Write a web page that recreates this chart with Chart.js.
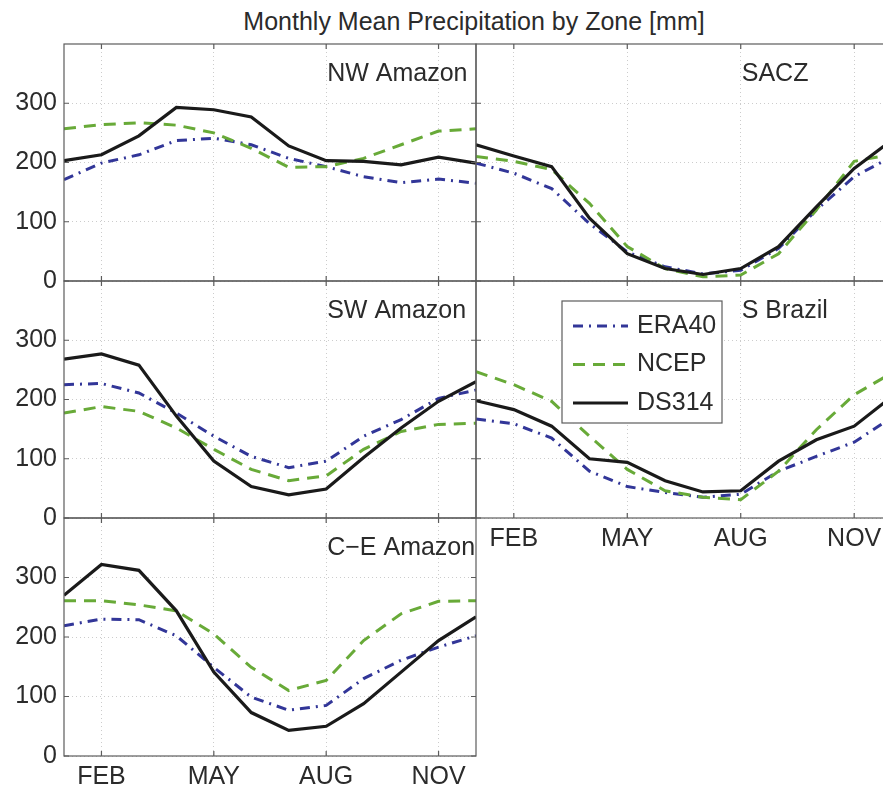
<!DOCTYPE html>
<html>
<head>
<meta charset="utf-8">
<script src="https://cdn.jsdelivr.net/npm/chart.js@4.4.0/dist/chart.umd.min.js"></script>
<style>
  html, body { margin: 0; padding: 0; background: #fff; }
  #fig { position: relative; width: 883px; height: 789px; overflow: hidden; font-family: 'Liberation Sans', Arial, sans-serif; }
  #fig canvas { position: absolute; }
  #title { position: absolute; left: 0; top: 6px; width: 948px; text-align: center; font-size: 25px; line-height: 30px; color: #2b2b2b; }
</style>
</head>
<body>
<div id="fig">
  <div id="title">Monthly Mean Precipitation by Zone [mm]</div>
  <canvas id="nw"></canvas>
  <canvas id="sw"></canvas>
  <canvas id="ce"></canvas>
  <canvas id="sacz"></canvas>
  <canvas id="sb"></canvas>
</div>
<script>
// months along x, only four are labelled
var months = [1, 2, 3, 4, 5, 6, 7, 8, 9, 10, 11, 12];
var monthTicks = [2, 5, 8, 11];
var monthLabels = ['FEB', 'MAY', 'AUG', 'NOV'];
var yTicks = [0, 100, 200, 300];
var seriesNames = ['ERA40', 'NCEP', 'DS314'];

// NW Amazon
var nwEra40 = [171, 199, 213, 237, 241, 230, 207, 193, 176, 166, 172, 165];
var nwNcep  = [257, 264, 267, 263, 250, 224, 192, 193, 207, 230, 253, 257];
var nwDs314 = [203, 213, 245, 293, 289, 277, 228, 203, 202, 196, 209, 199];
// SACZ
var saczEra40 = [199, 182, 156, 97, 49, 24, 12, 18, 55, 120, 176, 210];
var saczNcep  = [210, 202, 188, 131, 58, 21, 7, 10, 46, 120, 202, 214];
var saczDs314 = [230, 211, 193, 106, 46, 21, 11, 21, 58, 125, 190, 238];
// SW Amazon
var swEra40 = [225, 227, 211, 177, 138, 104, 85, 96, 138, 166, 202, 216];
var swNcep  = [177, 188, 180, 152, 116, 82, 63, 71, 116, 146, 158, 160];
var swDs314 = [268, 277, 258, 172, 96, 53, 39, 49, 102, 152, 197, 230];
// S Brazil
var sbEra40 = [167, 159, 135, 79, 53, 43, 35, 40, 79, 104, 128, 170];
var sbNcep  = [247, 225, 197, 138, 82, 46, 35, 31, 79, 149, 208, 245];
var sbDs314 = [198, 183, 155, 100, 94, 63, 44, 46, 96, 132, 155, 205];
// C-E Amazon
var ceEra40 = [219, 230, 229, 202, 149, 99, 77, 85, 130, 161, 183, 202];
var ceNcep  = [261, 261, 254, 244, 205, 149, 110, 127, 194, 239, 260, 261];
var ceDs314 = [270, 322, 312, 244, 141, 73, 43, 50, 88, 141, 194, 234];

var FONT = "'Liberation Sans', Arial, sans-serif";
var TEXT = '#2b2b2b';
var AXIS = '#5c5c5c';
var GRID = 'rgba(0,0,0,0.2)';

var styles = [
  {color: 'rgb(50, 54, 152)', dash: [10, 6, 2, 6], width: 3, order: 2},
  {color: 'rgb(104, 170, 56)', dash: [12, 8], width: 3, order: 1},
  {color: '#1a1a1a', dash: [], width: 3.2, order: 0}
];

// panel box, inward ticks, zone name and (optionally) the legend
var panelDecor = {
  id: 'panelDecor',
  afterDraw: function(chart, args, opts) {
    var ctx = chart.ctx, a = chart.chartArea;
    var xs = chart.scales.x, ys = chart.scales.y;
    ctx.save();
    ctx.strokeStyle = AXIS;
    ctx.lineWidth = 1.2;
    ctx.beginPath();
    xs.ticks.forEach(function(t) {
      var px = xs.getPixelForValue(t.value);
      ctx.moveTo(px, a.bottom); ctx.lineTo(px, a.bottom - 5);
      ctx.moveTo(px, a.top); ctx.lineTo(px, a.top + 5);
    });
    ys.ticks.forEach(function(t) {
      var py = ys.getPixelForValue(t.value);
      ctx.moveTo(a.left, py); ctx.lineTo(a.left + 5, py);
      ctx.moveTo(a.right, py); ctx.lineTo(a.right - 5, py);
    });
    ctx.stroke();
    ctx.strokeRect(a.left, a.top, a.right - a.left, a.bottom - a.top);

    ctx.fillStyle = TEXT;
    ctx.font = '25px ' + FONT;
    ctx.textAlign = 'left';
    ctx.textBaseline = 'middle';
    ctx.fillText(opts.label, xs.getPixelForValue(8) + 1, ys.getPixelForValue(350));

    if (opts.legend) {
      var bx = a.left + 86, by = a.top + 20, bw = 160, bh = 122;
      ctx.fillStyle = '#fff';
      ctx.fillRect(bx, by, bw, bh);
      ctx.strokeStyle = AXIS;
      ctx.lineWidth = 1.2;
      ctx.setLineDash([]);
      ctx.strokeRect(bx, by, bw, bh);
      chart.data.datasets.forEach(function(ds, i) {
        var ly = by + 25 + i * 38.5;
        ctx.strokeStyle = ds.borderColor;
        ctx.lineWidth = ds.borderWidth;
        ctx.setLineDash(ds.borderDash);
        ctx.beginPath();
        ctx.moveTo(bx + 11, ly); ctx.lineTo(bx + 66, ly);
        ctx.stroke();
        ctx.setLineDash([]);
        ctx.fillStyle = TEXT;
        ctx.fillText(ds.label, bx + 75, ly);
      });
    }
    ctx.restore();
  }
};

function makePanel(id, label, series, col, rowTop, rowH, showX, showLegend) {
  var left = col === 0 ? 64 : 476;
  var w = col === 0 ? 412 : 416;
  var yw = col === 0 ? 64 : 0;          // room for the y tick labels
  var xh = showX ? 42 : 0;              // room for the month labels
  var padL = col === 0 ? 0 : 10, padR = 20, padT = 30, padB = 30;
  var cv = document.getElementById(id);
  cv.width = padL + yw + w + padR;
  cv.height = padT + rowH + xh + padB;
  cv.style.left = (left - yw - padL) + 'px';
  cv.style.top = (rowTop - padT) + 'px';

  return new Chart(cv, {
    type: 'line',
    data: {
      datasets: series.map(function(vals, i) {
        return {
          label: seriesNames[i],
          data: vals.map(function(v, k) { return {x: months[k], y: v}; }),
          borderColor: styles[i].color,
          borderDash: styles[i].dash,
          borderWidth: styles[i].width,
          order: styles[i].order,
          pointRadius: 0,
          tension: 0,
          fill: false
        };
      })
    },
    options: {
      responsive: false,
      animation: false,
      devicePixelRatio: 1,
      layout: {padding: {left: padL, right: padR, top: padT, bottom: padB}},
      plugins: {
        legend: {display: false},
        tooltip: {enabled: false},
        panelDecor: {label: label, legend: showLegend}
      },
      scales: {
        x: {
          type: 'linear', min: 1, max: 12,
          afterBuildTicks: function(s) { s.ticks = monthTicks.map(function(v) { return {value: v}; }); },
          afterFit: function(s) { s.height = xh; },
          grid: {color: GRID, drawTicks: false, borderDash: [1, 3]},
          border: {display: false, dash: [1, 3]},
          ticks: {
            display: showX, padding: 6, color: TEXT, autoSkip: false, maxRotation: 0,
            font: {family: FONT, size: 25},
            callback: function(v) { return monthLabels[monthTicks.indexOf(v)]; }
          }
        },
        y: {
          min: 0, max: 400,
          afterBuildTicks: function(s) { s.ticks = yTicks.map(function(v) { return {value: v}; }); },
          afterFit: function(s) { s.width = yw; },
          grid: {color: GRID, drawTicks: false, borderDash: [1, 3]},
          border: {display: false, dash: [1, 3]},
          ticks: {display: col === 0, padding: 7, color: TEXT, autoSkip: false, font: {family: FONT, size: 25}}
        }
      }
    },
    plugins: [panelDecor]
  });
}

makePanel('nw', 'NW Amazon', [nwEra40, nwNcep, nwDs314], 0, 44, 237, false, false);
makePanel('sw', 'SW Amazon', [swEra40, swNcep, swDs314], 0, 281, 237, false, false);
makePanel('ce', 'C\u2212E Amazon', [ceEra40, ceNcep, ceDs314], 0, 518, 238, true, false);
makePanel('sacz', 'SACZ', [saczEra40, saczNcep, saczDs314], 1, 44, 237, false, false);
makePanel('sb', 'S Brazil', [sbEra40, sbNcep, sbDs314], 1, 281, 237, true, true);
</script>
</body>
</html>
